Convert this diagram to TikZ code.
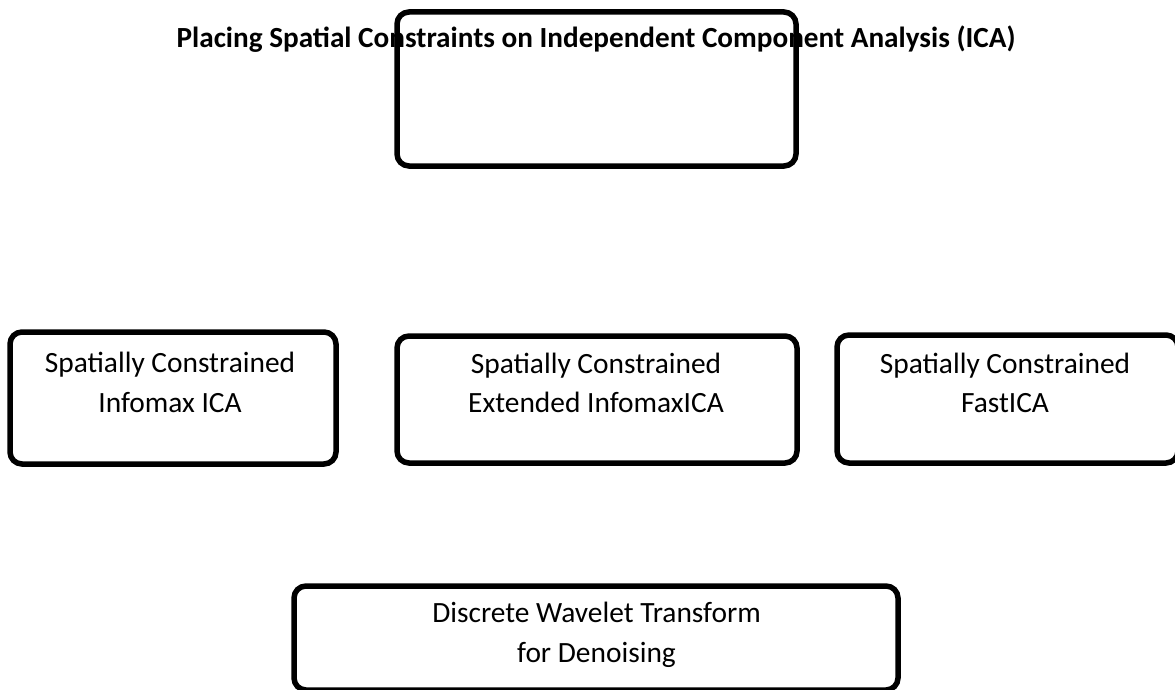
\documentclass[tikz,border=0pt]{standalone}
\usepackage{fontspec}
\setmainfont{Carlito}
\begin{document}
\begin{tikzpicture}[x=1pt,y=-1pt,
  frame/.style={draw=black, line width=5.5pt, rounded corners=12pt, inner sep=0pt},
  body/.style={font=\fontsize{29.4}{39.5}\selectfont, align=center, inner sep=0pt, anchor=base},
  heading/.style={font=\bfseries\fontsize{29.2}{34}\selectfont, inner sep=0pt, anchor=base}]
\clip (0,0) rectangle (1175,690);
\fill[white] (0,0) rectangle (1175,690);

% heading, drawn first so the top frame passes over it
\node[heading] (title) at (596,48) {Placing Spatial Constraints on Independent Component Analysis (ICA)};
\node[frame, minimum width=399pt, minimum height=154pt] (top) at (596.5,89) {};

% middle row of methods (base anchor sits on the last line)
\node[frame, minimum width=326pt, minimum height=132pt] (infomax) at (173,398) {};
\node[body] (infomaxT) at (170,412) {Spatially Constrained\\Infomax ICA};

\node[frame, minimum width=400pt, minimum height=127pt] (extended) at (597,399.5) {};
\node[body] (extendedT) at (596,412.5) {Spatially Constrained\\Extended InfomaxICA};

\node[frame, minimum width=341pt, minimum height=128pt] (fast) at (1007.5,399) {};
\node[body] (fastT) at (1005,412.5) {Spatially Constrained\\FastICA};

% bottom stage
\node[frame, minimum width=604pt, minimum height=104pt] (dwt) at (596,638) {};
\node[body] (dwtT) at (596.5,662) {Discrete Wavelet Transform\\for Denoising};
\end{tikzpicture}
\end{document}
